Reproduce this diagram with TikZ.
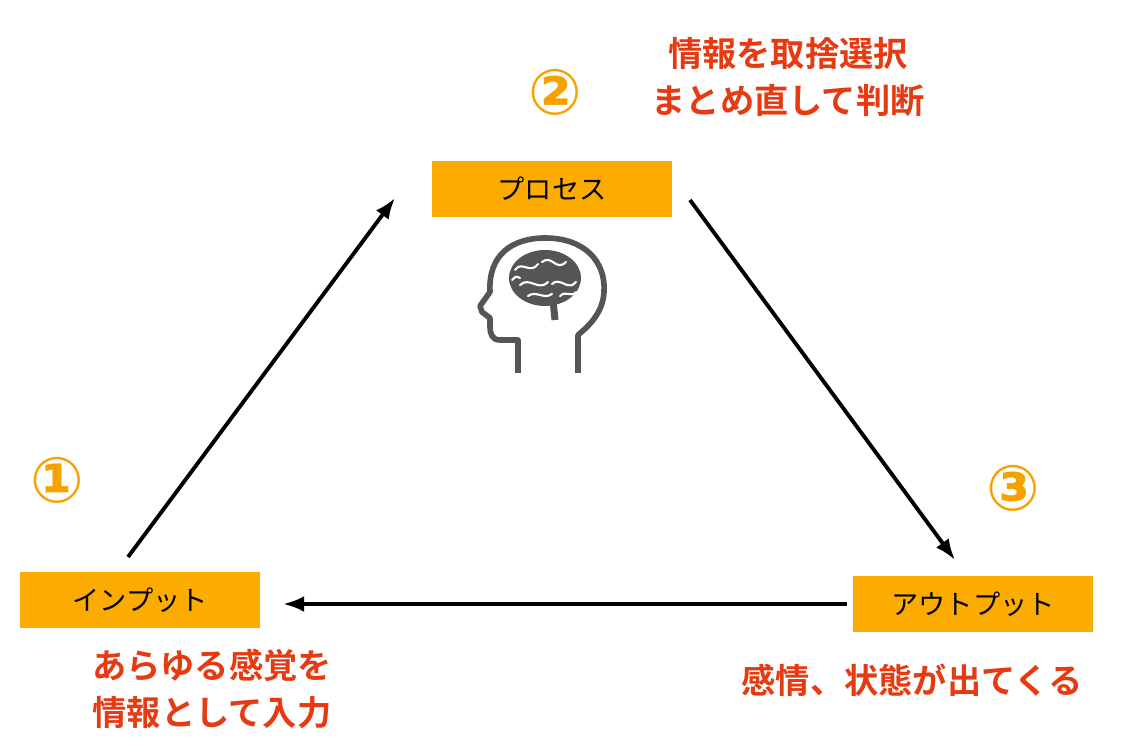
\documentclass[tikz,border=0pt]{standalone}
\usepackage{fontspec}
\usetikzlibrary{arrows.meta}
\newfontfamily\cjk{Noto Sans CJK JP}
\newfontfamily\cjkb{Noto Sans CJK JP Bold}
\newfontfamily\dv{DejaVu Sans}
\definecolor{boxor}{HTML}{FCAC00}
\definecolor{numor}{HTML}{F7A100}
\definecolor{redt}{HTML}{E63B12}
\definecolor{icon}{HTML}{555555}
\begin{document}
\begin{tikzpicture}[x=0.02cm,y=-0.02cm,
  stagebox/.style={fill=boxor,minimum width=4.82cm,minimum height=1.14cm,font=\cjk\fontsize{15.5}{18}\selectfont,inner sep=0},
  num/.style={text=numor,font=\dv\bfseries\fontsize{36}{36}\selectfont},
  note/.style={text=redt,font=\cjkb\fontsize{19.5}{27}\selectfont,align=center},
  arr/.style={-{Latex[length=12pt,width=9pt]},line width=2.2pt}]
\useasboundingbox (0,0) rectangle (1122,756);
\node[stagebox] (proc) at (552,189) {プロセス};
\node[stagebox] (inp) at (140,600) {インプット};
\node[stagebox] (outp) at (973,604) {アウトプット};
\coordinate (a1) at (128,557); \coordinate (a2) at (395,198);
\coordinate (b1) at (690,200); \coordinate (b2) at (955,560);
\coordinate (c1) at (847,604); \coordinate (c2) at (283,604);
\draw[arr] (a1) -- (a2);
\draw[arr] (b1) -- (b2);
\draw[arr] (c1) -- (c2);
\node[num] (n1) at (57,480) {①};
\node[num] (n2) at (555,92) {②};
\node[num] (n3) at (1013,488) {③};
\node[note] (t2) at (788,77) {情報を取捨選択\\まとめ直して判断};
\node[note] (t1) at (212,689) {あらゆる感覚を\\情報として入力};
\node[note] (t3) at (912,680) {感情、状態が出てくる};
% brain icon
\draw[icon,line width=3.2pt,line join=round]
  (518,373) -- (518,340) -- (500,340) .. controls (492,340) and (490,334) .. (490,326)
  -- (490,318) -- (482,312) -- (480,306) -- (490,292)
  .. controls (488,255) and (512,238) .. (545,238)
  .. controls (585,238) and (606,262) .. (604,292)
  .. controls (603,312) and (590,325) .. (578,335) -- (578,373);
\fill[icon] (545,278) ellipse (36 and 28);
\draw[white,line width=1.2pt,line cap=round]
  (515,270) .. controls (522,260) and (530,275) .. (538,264)
  (542,262) .. controls (552,254) and (556,272) .. (566,262)
  (520,285) .. controls (530,276) and (538,292) .. (548,282)
  (552,284) .. controls (560,276) and (568,292) .. (576,282)
  (528,296) .. controls (536,290) and (544,300) .. (552,294)
  (560,296) .. controls (566,290) and (572,298) .. (576,292)
  (512,280) .. controls (516,276) .. (520,278);
\draw[icon,line width=4pt] (553,300) -- (555,320);
\end{tikzpicture}
\end{document}
